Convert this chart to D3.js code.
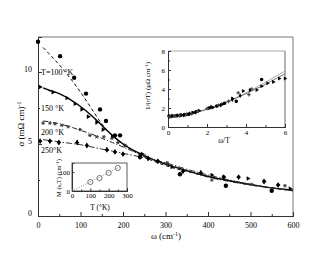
<!DOCTYPE html>
<html><head><meta charset="utf-8">
<script src="https://cdn.jsdelivr.net/npm/d3@7"></script>
<style>body{margin:0;background:#fff}svg{display:block}text{font-family:"Liberation Serif","Times New Roman","DejaVu Serif",serif !important;fill:#000}</style>
</head><body><svg id="c" width="330" height="255"></svg>
<script>
// ---- main chart data ----
const w100 = [0, 52, 85, 113, 146, 160, 181, 193, 240, 334, 442, 550];
const s100 = [12.1, 11.1, 9.6, 8.5, 7.4, 6.6, 5.6, 5.6, 4.1, 2.9, 2.1, 1.75];
const w150 = [5, 35, 68, 87, 103, 118, 138, 153, 175, 205, 245, 315, 409, 437, 494, 532, 593];
const s150 = [8.96, 8.6, 8.2, 7.8, 7.4, 6.9, 6.5, 6.0, 5.5, 4.9, 4.3, 3.4, 2.85, 2.7, 2.6, 2.4, 1.9];
const w200 = [12, 28, 40, 56, 71, 99, 122, 138, 155, 174, 188, 205, 250, 304, 409, 503, 581];
const s200 = [6.45, 6.45, 6.4, 6.3, 6.2, 6.0, 5.6, 5.5, 5.5, 5.4, 5.1, 4.9, 4.2, 3.7, 2.5, 2.2, 2.1];
const w250 = [5, 28, 49, 92, 115, 162, 181, 200, 240, 259, 282, 341, 383, 437, 472, 532, 565];
const s250 = [5.2, 5.2, 5.1, 5.1, 4.9, 4.6, 4.45, 4.3, 4.1, 4.0, 3.8, 3.1, 3.0, 2.7, 2.7, 2.4, 2.15];
const fitW = [12, 25, 50, 75, 100, 125, 150, 175, 200, 250, 300, 350, 400, 450, 500, 550, 600];
const fit100 = [11.7, 11.3, 10.5, 9.6, 8.6, 7.5, 6.4, 5.6, 5.0, 4.1, 3.5, 3.1, 2.75, 2.45, 2.15, 1.95, 1.75];
const fit150 = [8.9, 8.75, 8.5, 8.1, 7.6, 7.0, 6.3, 5.6, 5.0, 4.2, 3.6, 3.15, 2.75, 2.45, 2.2, 1.95, 1.8];
const fit200 = [6.6, 6.55, 6.4, 6.2, 5.95, 5.7, 5.4, 5.1, 4.8, 4.15, 3.65, 3.15, 2.7, 2.4, 2.15, 1.95, 1.75];
const fit250 = [5.3, 5.25, 5.15, 5.05, 4.95, 4.8, 4.65, 4.5, 4.35, 4.05, 3.7, 3.25, 2.85, 2.5, 2.2, 1.95, 1.75];
const mainXTicks = [0, 100, 200, 300, 400, 500, 600];
const mainYTicks = [0, 5, 10];
const tempLabels = ["T=100 \u00B0K", "150 \u00B0K", "200 \u00B0K", "250\u00B0K"];
const tempLabelY = [10, 7.5, 5.8, 4.6];

// ---- inset 1 (1/(sigma T) vs omega/T) ----
const inCircX = [0.05, 0.25, 0.45, 0.65, 0.85, 1.05, 1.25, 1.45, 2.1, 2.5, 2.9, 3.5, 4.8];
const inCircY = [1.15, 1.15, 1.2, 1.25, 1.3, 1.35, 1.5, 1.6, 2.0, 2.2, 2.5, 2.7, 5.0];
const inTriX = [0.15, 0.4, 0.7, 1.0, 1.3, 1.6, 2.3, 2.8, 3.3, 3.85, 4.55, 4.8, 5.1, 5.4, 5.7, 6.0];
const inTriY = [1.1, 1.15, 1.25, 1.35, 1.5, 1.7, 2.05, 2.4, 3.0, 3.8, 3.9, 4.3, 4.6, 4.75, 5.1, 5.1];
const inStarX = [0.1, 0.35, 0.6, 0.9, 1.2, 1.5, 2.0, 2.6, 3.1, 3.6, 4.15, 4.3];
const inStarY = [1.1, 1.15, 1.2, 1.3, 1.4, 1.65, 1.95, 2.3, 2.7, 3.6, 3.4, 4.0];
const inDiaX = [0.2, 0.5, 0.8, 1.1, 1.4, 2.2, 2.7, 3.3, 3.7, 4.2];
const inDiaY = [1.15, 1.2, 1.25, 1.4, 1.55, 2.1, 2.3, 2.9, 3.3, 3.9];
const inLineX = [0, 0.5, 1, 1.5, 2, 2.5, 3, 3.5, 4, 4.5, 5, 5.5, 6];
const inSolidY = [1.1, 1.15, 1.3, 1.55, 1.85, 2.2, 2.6, 3.05, 3.5, 4.0, 4.5, 5.05, 5.6];
const inGreyY = [1.15, 1.2, 1.35, 1.6, 1.9, 2.25, 2.65, 3.1, 3.6, 4.15, 4.7, 5.3, 5.9];
const in1XTicks = [0, 2, 4, 6];
const in1YTicks = [0, 2, 4, 6, 8];

// ---- inset 2 (M vs T) ----
const in2T = [100, 150, 200, 250];
const in2M = [47, 68, 95, 121];
const in2LineT = [0, 260];
const in2LineM = [0, 126];
const in2XTicks = [0, 100, 200, 300];
const in2YTicks = [0, 100];

const svg = d3.select("#c");
const FONT = "Liberation Serif";
const FS = 8;

// ===== main =====
const x = d3.scaleLinear().domain([0, 600]).range([38, 293]);
const y = d3.scaleLinear().domain([0, 12.43]).range([216, 37]);
const g = svg.append("g");

g.append("line").attr("x1", 38).attr("x2", 293).attr("y1", 37).attr("y2", 37).attr("stroke", "#777").attr("stroke-width", 1);
g.append("line").attr("x1", 293).attr("x2", 293).attr("y1", 37).attr("y2", 216).attr("stroke", "#777").attr("stroke-width", 1);

const xAxis = g.append("g").attr("transform", "translate(0,216)")
  .call(d3.axisBottom(x).tickValues(mainXTicks).tickSize(-4).tickPadding(6).tickFormat(d3.format("d")));
const xMinor = g.append("g").attr("transform", "translate(0,216)")
  .call(d3.axisBottom(x).tickValues([50,150,250,350,450,550]).tickSize(-2).tickFormat(""));
const yAxis = g.append("g").attr("transform", "translate(38,0)")
  .call(d3.axisLeft(y).tickValues(mainYTicks).tickSize(-4).tickPadding(6).tickFormat(d3.format("d")));
const yMinor = g.append("g").attr("transform", "translate(38,0)")
  .call(d3.axisLeft(y).tickValues([2.5, 7.5]).tickSize(-2).tickFormat(""));
[xAxis, xMinor, yAxis, yMinor].forEach(a => {
  a.attr("font-family", FONT);
  a.selectAll("text").style("font-size", FS + "px");
  a.selectAll("line").attr("stroke", "#333");
  a.select(".domain").attr("stroke", "#333");
});
yAxis.selectAll("text").attr("dy", "-0.1em");

const line = d3.line().x(d => x(d[0])).y(d => y(d[1])).curve(d3.curveMonotoneX);
function drawFit(ys, dash, col, sw) {
  g.append("path").datum(fitW.map((w, i) => [w, ys[i]])).attr("d", line)
    .attr("fill", "none").attr("stroke", col).attr("stroke-width", sw).attr("stroke-dasharray", dash);
}
drawFit(fit100, "3.5,2.5", "#111", 1);
drawFit(fit150, null, "#000", 1.4);
drawFit(fit200, "5,2,1,2", "#222", 1);
drawFit(fit250, "6,2,1.5,2", "#333", 1);

const sym = (type, size) => d3.symbol().type(type).size(size)();
function pts(parent, xs, ys, sx, sy, type, size, fill, rot) {
  parent.selectAll(null).data(xs.map((v, i) => [v, ys[i]])).enter().append("path")
    .attr("d", sym(type, size))
    .attr("transform", d => `translate(${sx(d[0])},${sy(d[1])}) rotate(${rot || 0})`)
    .attr("fill", fill);
}
pts(g, w100, s100, x, y, d3.symbolCircle, 15, "#000");
pts(g, w150, s150, x, y, d3.symbolTriangle, 9, "#000", 90);
pts(g, w250, s250, x, y, d3.symbolDiamond, 10, "#000");
pts(g, w250, s250, x, y, d3.symbolCross, 9, "#000");

// asterisk marks for 200K
const starG = g.append("g");
w200.forEach((w, i) => {
  const cx = x(w), cy = y(s200[i]);
  [0, 60, 120].forEach(a => {
    const r = 1.9, rad = a * Math.PI / 180;
    starG.append("line").attr("x1", cx - r * Math.cos(rad)).attr("y1", cy - r * Math.sin(rad))
      .attr("x2", cx + r * Math.cos(rad)).attr("y2", cy + r * Math.sin(rad))
      .attr("stroke", "#333").attr("stroke-width", 0.9);
  });
});

tempLabels.forEach((t, i) => {
  g.append("text").attr("x", 41).attr("y", y(tempLabelY[i]) + 3).style("font-size", "8px").text(t);
});

g.append("text").attr("transform", "translate(24,124) rotate(-90)").attr("text-anchor", "middle")
  .style("font-size", "9px").html('σ (mΩ cm)<tspan dy="-3" font-size="6px">-1</tspan>');
g.append("text").attr("x", 166).attr("y", 239).attr("text-anchor", "middle")
  .style("font-size", "9px").html('ω (cm<tspan dy="-3" font-size="6px">-1</tspan><tspan dy="3">)</tspan>');

// ===== inset 1 =====
const ix = d3.scaleLinear().domain([0, 6]).range([168, 285]);
const iy = d3.scaleLinear().domain([0, 8]).range([127, 51]);
const g1 = svg.append("g");
g1.append("rect").attr("x", 168).attr("y", 51).attr("width", 117).attr("height", 76).attr("fill", "#fff");
g1.append("line").attr("x1", 168).attr("x2", 285).attr("y1", 51).attr("y2", 51).attr("stroke", "#aaa").attr("stroke-width", 1.2);
g1.append("line").attr("x1", 285).attr("x2", 285).attr("y1", 51).attr("y2", 127).attr("stroke", "#666").attr("stroke-width", 1);
const i1x = g1.append("g").attr("transform", "translate(0,127)")
  .call(d3.axisBottom(ix).tickValues(in1XTicks).tickSize(-3).tickPadding(3).tickFormat(d3.format("d")));
const i1xm = g1.append("g").attr("transform", "translate(0,127)")
  .call(d3.axisBottom(ix).tickValues([1, 3, 5]).tickSize(-2).tickFormat(""));
const i1y = g1.append("g").attr("transform", "translate(168,0)")
  .call(d3.axisLeft(iy).tickValues(in1YTicks).tickSize(-3).tickPadding(3).tickFormat(d3.format("d")));
const i1ym = g1.append("g").attr("transform", "translate(168,0)")
  .call(d3.axisLeft(iy).tickValues([1, 3, 5, 7]).tickSize(-2).tickFormat(""));
[i1x, i1xm, i1y, i1ym].forEach(a => {
  a.attr("font-family", FONT);
  a.selectAll("text").style("font-size", "7px");
  a.selectAll("line").attr("stroke", "#333");
  a.select(".domain").attr("stroke", "#333");
});
const iline = d3.line().x(d => ix(d[0])).y(d => iy(d[1])).curve(d3.curveMonotoneX);
g1.append("path").datum(inLineX.map((v, i) => [v, inGreyY[i]])).attr("d", iline)
  .attr("fill", "none").attr("stroke", "#999").attr("stroke-width", 0.8);
g1.append("path").datum(inLineX.map((v, i) => [v, inSolidY[i]])).attr("d", iline)
  .attr("fill", "none").attr("stroke", "#555").attr("stroke-width", 0.8);
pts(g1, inCircX, inCircY, ix, iy, d3.symbolCircle, 10, "#000");
pts(g1, inTriX, inTriY, ix, iy, d3.symbolTriangle, 7, "#000", 90);
pts(g1, inStarX, inStarY, ix, iy, d3.symbolCross, 7, "#444");
pts(g1, inDiaX, inDiaY, ix, iy, d3.symbolDiamond, 7, "#000");
g1.append("text").attr("x", 224).attr("y", 143).attr("text-anchor", "middle").style("font-size", "7.5px").text("ω/T");
g1.append("text").attr("transform", "translate(150,86) rotate(-90)").attr("text-anchor", "middle")
  .style("font-size", "7px").html('1/(σT) (μΩ cm<tspan dy="-2.5" font-size="5px">-1</tspan><tspan dy="2.5">)</tspan>');

// ===== inset 2 =====
const tx = d3.scaleLinear().domain([0, 300]).range([72, 127]);
const ty = d3.scaleLinear().domain([0, 147]).range([191, 163]);
const g2 = svg.append("g");
g2.append("rect").attr("x", 72).attr("y", 163).attr("width", 55).attr("height", 28).attr("fill", "#fff")
  .attr("stroke", "#333").attr("stroke-width", 0.8);
const i2x = g2.append("g").attr("transform", "translate(0,191)")
  .call(d3.axisBottom(tx).tickValues(in2XTicks).tickSize(-2.5).tickPadding(2).tickFormat(d3.format("d")));
const i2xm = g2.append("g").attr("transform", "translate(0,191)")
  .call(d3.axisBottom(tx).tickValues([50, 150, 250]).tickSize(-1.5).tickFormat(""));
const i2y = g2.append("g").attr("transform", "translate(72,0)")
  .call(d3.axisLeft(ty).tickValues(in2YTicks).tickSize(-2.5).tickPadding(2).tickFormat(d3.format("d")));
[i2x, i2xm, i2y].forEach(a => {
  a.attr("font-family", FONT);
  a.selectAll("text").style("font-size", "7px");
  a.selectAll("line").attr("stroke", "#333");
  a.select(".domain").attr("stroke", "#333");
});
g2.append("path").datum(in2LineT.map((v, i) => [v, in2LineM[i]]))
  .attr("d", d3.line().x(d => tx(d[0])).y(d => ty(d[1])))
  .attr("stroke", "#666").attr("stroke-width", 0.8).attr("stroke-dasharray", "1,1.5").attr("fill", "none");
g2.selectAll(null).data(in2T.map((v, i) => [v, in2M[i]])).enter().append("circle")
  .attr("cx", d => tx(d[0])).attr("cy", d => ty(d[1])).attr("r", 2.6)
  .attr("fill", "none").attr("stroke", "#444").attr("stroke-width", 0.7);
g2.append("text").attr("x", 100).attr("y", 210).attr("text-anchor", "middle").style("font-size", "7.5px").text("T (°K)");
g2.append("text").attr("transform", "translate(61,178) rotate(-90)").attr("text-anchor", "middle")
  .style("font-size", "6.5px").html('M (s,T) (cm<tspan dy="-2.5" font-size="5px">-1</tspan><tspan dy="2.5">)</tspan>');
</script></body></html>
